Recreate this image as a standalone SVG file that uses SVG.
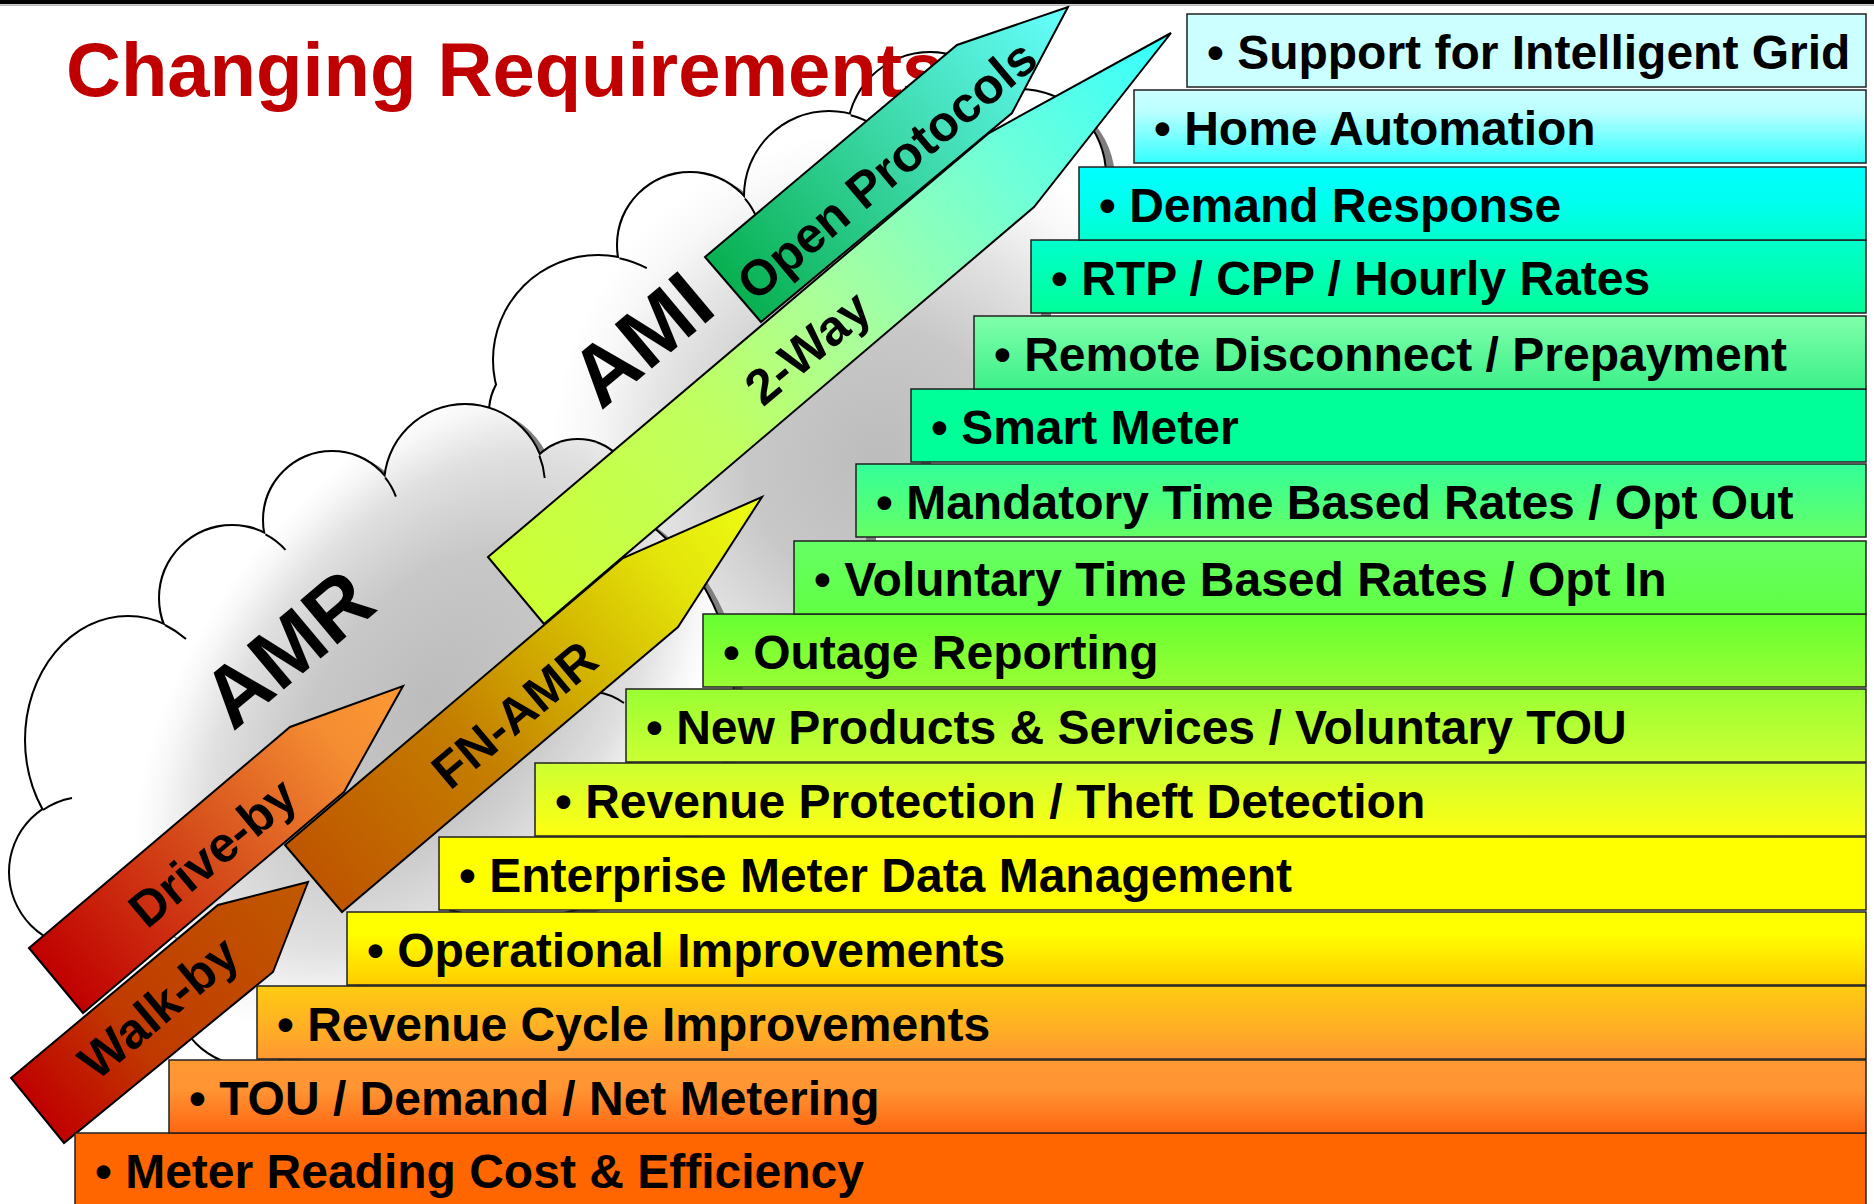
<svg xmlns="http://www.w3.org/2000/svg" xmlns:xlink="http://www.w3.org/1999/xlink" width="1874" height="1204" viewBox="0 0 1874 1204">
  <style>
    .box { stroke: #202020; stroke-width: 1.5; }
    .btxt { font-family: "Liberation Sans", Arial, sans-serif; font-weight: bold; font-size: 48px; fill: #000; }
    .alabel { font-family: "Liberation Sans", Arial, sans-serif; font-weight: bold; font-size: 50px; fill: #000; text-anchor: middle; }
    .cloudtxt { font-family: "Liberation Sans", Arial, sans-serif; font-weight: bold; font-size: 84px; fill: #000; }
    .arrow { stroke: #000; stroke-width: 2; stroke-linejoin: miter; }
    .cloud-line { fill: none; stroke: #000; stroke-width: 4; }
    .cloud-shadow { fill: #7f7f7f; stroke: #7f7f7f; stroke-width: 4; }
    .hook { fill: none; stroke: #000; stroke-width: 2; }
  </style>
  <defs>
    <!-- cloud fills: light at the rim, grey towards the middle -->
    <radialGradient id="gAMI" gradientUnits="userSpaceOnUse" cx="880" cy="460" r="330">
      <stop offset="0" stop-color="#bcbcbc"/>
      <stop offset="0.4" stop-color="#c8c8c8"/>
      <stop offset="0.7" stop-color="#e4e4e4"/>
      <stop offset="0.88" stop-color="#f8f8f8"/>
      <stop offset="1" stop-color="#ffffff"/>
    </radialGradient>
    <radialGradient id="gAMR" gradientUnits="userSpaceOnUse" cx="0" cy="0" r="1" gradientTransform="translate(430,700) rotate(-51.7) scale(380,230)">
      <stop offset="0" stop-color="#bcbcbc"/>
      <stop offset="0.45" stop-color="#c8c8c8"/>
      <stop offset="0.75" stop-color="#e0e0e0"/>
      <stop offset="0.92" stop-color="#f8f8f8"/>
      <stop offset="1" stop-color="#ffffff"/>
    </radialGradient>

    <!-- cloud geometry: outer puffs + solid core -->
    <g id="amiBumps">
      <circle cx="545" cy="412" r="55"/>
      <circle cx="598" cy="360" r="104"/>
      <circle cx="690" cy="245" r="72"/>
      <circle cx="829" cy="196" r="84"/>
      <circle cx="930" cy="135" r="82"/>
      <circle cx="1020" cy="175" r="85"/>
    </g>
    <polygon id="amiCore" points="545,412 598,360 690,245 829,196 930,135 1020,175 1089,200 1089,243 1041,243 1041,319 984,319 984,392 921,392 921,467 866,467 866,544 804,544 804,617 713,617 713,680 600,640 520,470"/>
    <g id="amrBumps">
      <circle cx="85" cy="872" r="75"/>
      <ellipse cx="128" cy="740" rx="102" ry="123"/>
      <circle cx="232" cy="598" r="72"/>
      <circle cx="332" cy="520" r="68"/>
      <circle cx="465" cy="485" r="80"/>
      <circle cx="578" cy="495" r="55"/>
      <circle cx="513" cy="698" r="220"/>
      <circle cx="250" cy="990" r="75"/>
    </g>
    <polygon id="amrCore" points="85,872 128,740 232,598 332,520 465,485 578,495 513,698 640,740 640,766 544,766 544,840 449,840 449,915 357,915 357,989 267,989 267,1063 250,1063 250,990"/>

    <!-- arrow fills, running from tail to tip -->
    <linearGradient id="aWalk" gradientUnits="userSpaceOnUse" x1="37" y1="1110" x2="308" y2="882">
      <stop offset="0" stop-color="#c00000"/>
      <stop offset="0.35" stop-color="#c03a00"/>
      <stop offset="1" stop-color="#c05a00"/>
    </linearGradient>
    <linearGradient id="aDrive" gradientUnits="userSpaceOnUse" x1="56" y1="980" x2="403" y2="686">
      <stop offset="0" stop-color="#c00000"/>
      <stop offset="0.45" stop-color="#d6501c"/>
      <stop offset="0.8" stop-color="#f48c32"/>
      <stop offset="1" stop-color="#ff9933"/>
    </linearGradient>
    <linearGradient id="aFN" gradientUnits="userSpaceOnUse" x1="313" y1="878" x2="762" y2="497">
      <stop offset="0" stop-color="#bf5500"/>
      <stop offset="0.35" stop-color="#c47e00"/>
      <stop offset="0.6" stop-color="#d4b800"/>
      <stop offset="0.8" stop-color="#e4e40a"/>
      <stop offset="1" stop-color="#eeff14"/>
    </linearGradient>
    <linearGradient id="aTwo" gradientUnits="userSpaceOnUse" x1="516" y1="590" x2="1171" y2="33">
      <stop offset="0" stop-color="#ccff33"/>
      <stop offset="0.3" stop-color="#c0ff60"/>
      <stop offset="0.5" stop-color="#a8ff9c"/>
      <stop offset="0.75" stop-color="#70ffd8"/>
      <stop offset="1" stop-color="#33ffff"/>
    </linearGradient>
    <linearGradient id="aOpen" gradientUnits="userSpaceOnUse" x1="733" y1="290" x2="1068" y2="7">
      <stop offset="0" stop-color="#08b050"/>
      <stop offset="0.5" stop-color="#3cd8a8"/>
      <stop offset="1" stop-color="#66ffff"/>
    </linearGradient>

    <!-- requirement bar fills, top to bottom -->
    <linearGradient id="b1" x1="0" y1="0" x2="0" y2="1"><stop offset="0" stop-color="#ccffff"/><stop offset="1" stop-color="#ccffff"/></linearGradient>
    <linearGradient id="b2" x1="0" y1="0" x2="0" y2="1"><stop offset="0" stop-color="#ccffff"/><stop offset="0.3" stop-color="#bbffff"/><stop offset="1" stop-color="#33ffff"/></linearGradient>
    <linearGradient id="b3" x1="0" y1="0" x2="0" y2="1"><stop offset="0" stop-color="#00ffff"/><stop offset="0.5" stop-color="#00ffee"/><stop offset="1" stop-color="#00ffcc"/></linearGradient>
    <linearGradient id="b4" x1="0" y1="0" x2="0" y2="1"><stop offset="0" stop-color="#00ffcc"/><stop offset="1" stop-color="#00ff99"/></linearGradient>
    <linearGradient id="b5" x1="0" y1="0" x2="0" y2="1"><stop offset="0" stop-color="#80ffaa"/><stop offset="1" stop-color="#3cf08a"/></linearGradient>
    <linearGradient id="b6" x1="0" y1="0" x2="0" y2="1"><stop offset="0" stop-color="#00ff99"/><stop offset="1" stop-color="#00ff99"/></linearGradient>
    <linearGradient id="b7" x1="0" y1="0" x2="0" y2="1"><stop offset="0" stop-color="#33ff99"/><stop offset="1" stop-color="#66ff66"/></linearGradient>
    <linearGradient id="b8" x1="0" y1="0" x2="0" y2="1"><stop offset="0" stop-color="#66ff66"/><stop offset="1" stop-color="#60ff44"/></linearGradient>
    <linearGradient id="b9" x1="0" y1="0" x2="0" y2="1"><stop offset="0" stop-color="#66ff33"/><stop offset="1" stop-color="#99ff33"/></linearGradient>
    <linearGradient id="b10" x1="0" y1="0" x2="0" y2="1"><stop offset="0" stop-color="#99ff33"/><stop offset="1" stop-color="#ccff33"/></linearGradient>
    <linearGradient id="b11" x1="0" y1="0" x2="0" y2="1"><stop offset="0" stop-color="#ccff33"/><stop offset="1" stop-color="#ffff11"/></linearGradient>
    <linearGradient id="b12" x1="0" y1="0" x2="0" y2="1"><stop offset="0" stop-color="#ffff00"/><stop offset="1" stop-color="#ffff00"/></linearGradient>
    <linearGradient id="b13" x1="0" y1="0" x2="0" y2="1"><stop offset="0" stop-color="#ffff00"/><stop offset="0.3" stop-color="#ffff00"/><stop offset="1" stop-color="#ffcc00"/></linearGradient>
    <linearGradient id="b14" x1="0" y1="0" x2="0" y2="1"><stop offset="0" stop-color="#ffcc11"/><stop offset="1" stop-color="#ff9933"/></linearGradient>
    <linearGradient id="b15" x1="0" y1="0" x2="0" y2="1"><stop offset="0" stop-color="#ff9933"/><stop offset="0.4" stop-color="#ff9433"/><stop offset="1" stop-color="#ff6611"/></linearGradient>
    <linearGradient id="b16" x1="0" y1="0" x2="0" y2="1"><stop offset="0" stop-color="#ff6600"/><stop offset="1" stop-color="#ff6600"/></linearGradient>
  </defs>

  <rect x="0" y="0" width="1874" height="1204" fill="#ffffff"/>

  <!-- AMI cloud (back) -->
  <g id="cloud-ami">
    <g transform="translate(8,5)" class="cloud-shadow">
      <use xlink:href="#amiBumps"/>
      <use xlink:href="#amiCore"/>
    </g>
    <use xlink:href="#amiBumps" class="cloud-line"/>
    <g fill="url(#gAMI)" stroke="none">
      <use xlink:href="#amiBumps"/>
      <use xlink:href="#amiCore"/>
    </g>
    <path class="hook" d="M619.4,258.2 A104,104 0 0 1 646.8,268.2"/>
    <path class="hook" d="M745,198.6 A72,72 0 0 1 756.8,218"/>
    <path class="hook" d="M850.7,115.2 A84,84 0 0 1 873.5,124.8"/>
    <text class="cloudtxt" transform="translate(601,411) rotate(-40)">AMI</text>
  </g>

  <!-- AMR cloud (front) -->
  <g id="cloud-amr">
    <g transform="translate(8,5)" class="cloud-shadow">
      <use xlink:href="#amrBumps"/>
      <use xlink:href="#amrCore"/>
    </g>
    <use xlink:href="#amrBumps" class="cloud-line"/>
    <g fill="url(#gAMR)" stroke="none">
      <use xlink:href="#amrBumps"/>
      <use xlink:href="#amrCore"/>
    </g>
    <path class="hook" d="M43,810 A75,75 0 0 1 72,798"/>
    <path class="hook" d="M165,625 A102,123 0 0 1 186,639"/>
    <path class="hook" d="M265.5,534.3 A72,72 0 0 1 285.5,549.8"/>
    <path class="hook" d="M385.2,477.7 A68,68 0 0 1 395.9,496.7"/>
    <path class="hook" d="M539.4,455.7 A80,80 0 0 1 544.7,478"/>
    <path class="hook" d="M597,692 Q611,694 624,703"/>
    <text class="cloudtxt" transform="translate(233,732) rotate(-40)">AMR</text>
  </g>

  <!-- title -->
  <text id="title" x="66" y="96" font-family="'Liberation Sans', Arial, sans-serif" font-weight="bold" font-size="76" fill="#c00000">Changing Requirements</text>

  <!-- technology arrows -->
  <g id="connectors">
    <g id="arrow-2way">
      <polygon class="arrow" fill="url(#aTwo)" points="488,557 989,133 1171,33 1034,207 544,624"/>
      <text class="alabel" transform="translate(807,347) rotate(-40)" y="18">2-Way</text>
    </g>
    <g id="arrow-open">
      <polygon class="arrow" fill="url(#aOpen)" points="705,257 957,45 1068,7 1012,113 761,322"/>
      <text class="alabel" font-size="48" transform="translate(887,170) rotate(-40)" y="17">Open Protocols</text>
    </g>
    <g id="arrow-fnamr">
      <polygon class="arrow" fill="url(#aFN)" points="285,845 623,558 762,497 678,627 342,912"/>
      <text class="alabel" transform="translate(514,714) rotate(-40)" y="18">FN-AMR</text>
    </g>
    <g id="arrow-drive">
      <polygon class="arrow" fill="url(#aDrive)" points="29,948 290,727 403,686 344,792 83,1013"/>
      <text class="alabel" transform="translate(212,852) rotate(-40)" y="18">Drive-by</text>
    </g>
    <g id="arrow-walk">
      <polygon class="arrow" fill="url(#aWalk)" points="11,1078 218,905 308,882 273,972 64,1143"/>
      <text class="alabel" transform="translate(158,1007) rotate(-40)" y="18">Walk-by</text>
    </g>
  </g>

  <!-- requirement steps -->
  <g id="req-16"><rect class="box" x="75" y="1133" width="1791" height="73" fill="url(#b16)"/><text class="btxt" x="95" y="1188">• Meter Reading Cost &amp; Efficiency</text></g>
  <g id="req-15"><rect class="box" x="169" y="1060" width="1697" height="73" fill="url(#b15)"/><text class="btxt" x="189" y="1115">• TOU / Demand / Net Metering</text></g>
  <g id="req-14"><rect class="box" x="257" y="986" width="1609" height="73" fill="url(#b14)"/><text class="btxt" x="277" y="1041">• Revenue Cycle Improvements</text></g>
  <g id="req-13"><rect class="box" x="347" y="912" width="1519" height="73" fill="url(#b13)"/><text class="btxt" x="367" y="967">• Operational Improvements</text></g>
  <g id="req-12"><rect class="box" x="439" y="837" width="1427" height="73" fill="url(#b12)"/><text class="btxt" x="459" y="892">• Enterprise Meter Data Management</text></g>
  <g id="req-11"><rect class="box" x="535" y="763" width="1331" height="73" fill="url(#b11)"/><text class="btxt" x="555" y="818">• Revenue Protection / Theft Detection</text></g>
  <g id="req-10"><rect class="box" x="626" y="689" width="1240" height="73" fill="url(#b10)"/><text class="btxt" x="646" y="744">• New Products &amp; Services / Voluntary TOU</text></g>
  <g id="req-9"><rect class="box" x="703" y="614" width="1163" height="73" fill="url(#b9)"/><text class="btxt" x="723" y="669">• Outage Reporting</text></g>
  <g id="req-8"><rect class="box" x="794" y="541" width="1072" height="73" fill="url(#b8)"/><text class="btxt" x="814" y="596">• Voluntary Time Based Rates / Opt In</text></g>
  <g id="req-7"><rect class="box" x="856" y="464" width="1010" height="73" fill="url(#b7)"/><text class="btxt" x="876" y="519">• Mandatory Time Based Rates / Opt Out</text></g>
  <g id="req-6"><rect class="box" x="911" y="389" width="955" height="73" fill="url(#b6)"/><text class="btxt" x="931" y="444">• Smart Meter</text></g>
  <g id="req-5"><rect class="box" x="974" y="316" width="892" height="73" fill="url(#b5)"/><text class="btxt" x="994" y="371">• Remote Disconnect / Prepayment</text></g>
  <g id="req-4"><rect class="box" x="1031" y="240" width="835" height="73" fill="url(#b4)"/><text class="btxt" x="1051" y="295">• RTP / CPP / Hourly Rates</text></g>
  <g id="req-3"><rect class="box" x="1079" y="167" width="787" height="73" fill="url(#b3)"/><text class="btxt" x="1099" y="222">• Demand Response</text></g>
  <g id="req-2"><rect class="box" x="1134" y="90" width="732" height="73" fill="url(#b2)"/><text class="btxt" x="1154" y="145">• Home Automation</text></g>
  <g id="req-1"><rect class="box" x="1187" y="14" width="679" height="73" fill="url(#b1)"/><text class="btxt" x="1207" y="69">• Support for Intelligent Grid</text></g>

  <!-- slide header rule -->
  <rect x="0" y="0" width="1874" height="4" fill="#000"/>
  <rect x="0" y="4.5" width="1874" height="1.2" fill="#9a9a9a"/>
</svg>
